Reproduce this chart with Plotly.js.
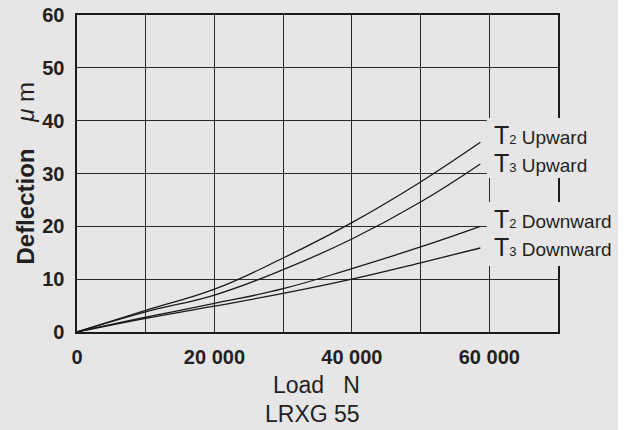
<!DOCTYPE html>
<html>
<head>
<meta charset="utf-8">
<script src="https://cdn.plot.ly/plotly-3.0.1.min.js"></script>
<style>
html,body{margin:0;padding:0;background:#ffffff;}
#chart{width:618px;height:430px;}
</style>
</head>
<body>
<div id="chart"></div>
<script>
// Data
const load = [0, 10000, 20000, 30000, 40000, 50000, 58700];
const t2Upward   = [0, 4.1, 8.1, 14.0, 20.7, 28.4, 35.9];
const t3Upward   = [0, 3.8, 7.0, 11.8, 17.6, 24.6, 31.8];
const t2Downward = [0, 2.8, 5.4, 8.2, 12.0, 16.1, 20.0];
const t3Downward = [0, 2.6, 4.9, 7.3, 10.0, 13.1, 15.9];

const xTickVals = [0, 10000, 20000, 30000, 40000, 50000, 60000, 70000];
const xTickText = ["0", "", "20 000", "", "40 000", "", "60 000", ""];
const yTickVals = [0, 10, 20, 30, 40, 50, 60];
const yTickText = ["0", "10", "20", "30", "40", "50", "60"];

const seriesNames = ["T2 Upward", "T3 Upward", "T2 Downward", "T3 Downward"];
const seriesValues = [t2Upward, t3Upward, t2Downward, t3Downward];
const labelHtml = [
  "<span style='font-size:25px'>T</span><span style='font-size:13px'>2</span> Upward",
  "<span style='font-size:25px'>T</span><span style='font-size:13px'>3</span> Upward",
  "<span style='font-size:25px'>T</span><span style='font-size:13px'>2</span> Downward",
  "<span style='font-size:25px'>T</span><span style='font-size:13px'>3</span> Downward"
];

const BG = "#e6e6e6";
const INK = "#231f20";
const FONT = "Liberation Sans, Arial, sans-serif";

const traces = seriesValues.map((vals, i) => ({
  type: "scatter",
  mode: "lines",
  name: seriesNames[i],
  x: load,
  y: vals,
  line: {color: "#1a1a1a", width: 1.3, shape: "spline", smoothing: 1.2},
  hoverinfo: "skip"
}));

// label positions (paper coordinates)
const labelY = [0.621, 0.533, 0.356, 0.268];
const annotations = labelHtml.map((t, i) => ({
  xref: "paper", yref: "paper",
  x: 0.862, y: labelY[i],
  xanchor: "left", yanchor: "middle",
  text: t, showarrow: false,
  font: {family: FONT, size: 19, color: INK}
}));

annotations.push({
  xref: "paper", yref: "paper", x: -0.108, y: 0.5,
  xanchor: "center", yanchor: "middle", textangle: -90,
  text: "<b>Deflection</b>&nbsp;&nbsp;&nbsp;&nbsp;<i>μ</i> m",
  showarrow: false,
  font: {family: FONT, size: 24, color: INK}
});
annotations.push({
  xref: "paper", yref: "paper", x: 0.497, y: -0.167,
  xanchor: "center", yanchor: "middle",
  text: "Load&nbsp;&nbsp;&nbsp;N",
  showarrow: false,
  font: {family: FONT, size: 23, color: INK}
});
annotations.push({
  xref: "paper", yref: "paper", x: 0.489, y: -0.259,
  xanchor: "center", yanchor: "middle",
  text: "LRXG 55",
  showarrow: false,
  font: {family: FONT, size: 23, color: INK}
});

const layout = {
  width: 618, height: 430,
  margin: {l: 77, r: 60, t: 15, b: 98},
  paper_bgcolor: BG, plot_bgcolor: BG,
  showlegend: false,
  xaxis: {
    range: [0, 70000],
    tickmode: "array", tickvals: xTickVals, ticktext: xTickText,
    showgrid: true, gridcolor: "#2a2a2a", gridwidth: 1,
    zeroline: false,
    showline: true, mirror: true, linecolor: "#1a1a1a", linewidth: 1.6,
    ticks: "", ticklabelstandoff: 6,
    tickfont: {family: FONT, size: 20, color: INK, weight: "bold"},
    fixedrange: true
  },
  yaxis: {
    range: [0, 60],
    tickmode: "array", tickvals: yTickVals, ticktext: yTickText,
    showgrid: true, gridcolor: "#2a2a2a", gridwidth: 1,
    zeroline: false,
    showline: true, mirror: true, linecolor: "#1a1a1a", linewidth: 1.6,
    ticks: "", ticklabelstandoff: 7,
    tickfont: {family: FONT, size: 20, color: INK, weight: "bold"},
    fixedrange: true
  },
  shapes: [
    {type: "rect", xref: "paper", yref: "paper", x0: 0.852, x1: 1.13, y0: 0.486, y1: 0.675,
     fillcolor: BG, line: {width: 0}, layer: "above"},
    {type: "rect", xref: "paper", yref: "paper", x0: 0.852, x1: 1.13, y0: 0.208, y1: 0.410,
     fillcolor: BG, line: {width: 0}, layer: "above"}
  ],
  annotations: annotations
};

Plotly.newPlot("chart", traces, layout, {staticPlot: true, displayModeBar: false});
</script>
</body>
</html>
